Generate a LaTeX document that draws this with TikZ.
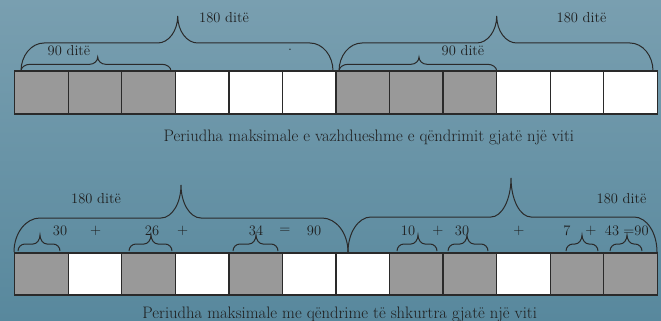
\documentclass[tikz,border=0pt]{standalone}
\usepackage{tikz}

\definecolor{bgtop}{HTML}{799FB0}
\definecolor{bgbot}{HTML}{58889D}
\definecolor{cellgray}{HTML}{999999}
\definecolor{inkline}{HTML}{2A2A2A}
\definecolor{inktext}{HTML}{1E1E1E}

\tikzset{
  cell/.style={draw=inkline, line width=1.3pt, minimum width=53.55pt, minimum height=43pt, inner sep=0pt},
  lowcell/.style={cell, minimum height=42pt},
  bracepen/.style={draw=inkline, line width=1pt},
  lbl/.style={text=inktext, inner sep=0pt, font=\fontsize{14.5}{16}\selectfont},
  caption/.style={text=inktext, inner sep=0pt, font=\fontsize{16.6}{18}\selectfont}
}

% curly brace: x-left, x-right, x-tip, y-end, y-flat, y-tip, end width, tip width
\newcommand{\dbrace}[8]{%
  \draw[bracepen] (#1,#4) .. controls (#1,{#4-0.55*(#4-#5)}) and ({#1+0.45*#7},#5) .. ({#1+#7},#5)
    -- ({#3-#8},#5) .. controls ({#3-0.45*#8},#5) and (#3,{#5-0.45*(#5-#6)}) .. (#3,#6)
    .. controls (#3,{#5-0.45*(#5-#6)}) and ({#3+0.45*#8},#5) .. ({#3+#8},#5)
    -- ({#2-#7},#5) .. controls ({#2-0.45*#7},#5) and (#2,{#4-0.55*(#4-#5)}) .. (#2,#4);}

\begin{document}
\begin{tikzpicture}[x=1pt,y=-1pt]
  \shade[top color=bgtop, bottom color=bgbot] (0,0) rectangle (661,321);
  \useasboundingbox (0,0) rectangle (661,321);

  % upper row
  \foreach \f [count=\i] in {cellgray,cellgray,cellgray,white,white,white,cellgray,cellgray,cellgray,white,white,white}
    \node[cell, fill=\f] (t\i) at ({14.7+(\i-0.5)*53.55},92.5) {};

  \dbrace{21}{333}{177.7}{71}{43}{16}{23}{20}
  \dbrace{21}{171}{97.7}{71}{64.3}{57}{9}{8}
  \dbrace{339}{653}{496.7}{71}{43}{16}{23}{20}
  \dbrace{339}{496.7}{419}{71}{64.3}{57}{9}{8}

  \node[lbl] (days1) at (224,18) {180 ditë};
  \node[lbl] (days2) at (581.5,18) {180 ditë};
  \node[lbl] (half1) at (69,51) {90 ditë};
  \node[lbl] (half2) at (463,51) {90 ditë};
  \node[lbl] (dot) at (290,50) {.};
  \node[caption] (cap1) at (368.8,137) {Periudha maksimale e vazhdueshme e qëndrimit gjatë një viti};

  % lower row
  \foreach \f [count=\i] in {cellgray,white,cellgray,white,cellgray,white,white,cellgray,cellgray,white,cellgray,cellgray}
    \node[lowcell, fill=\f] (b\i) at ({14.7+(\i-0.5)*53.55},274) {};

  \dbrace{14}{348}{181}{252}{218}{185}{26}{20}
  \dbrace{348}{657}{511}{252}{217}{178}{23}{20}
  \dbrace{18}{60}{40}{251}{244}{235}{7}{7}
  \dbrace{129}{172}{151}{251}{244}{235}{7}{7}
  \dbrace{233}{278}{256}{251}{244}{235}{7}{7}
  \dbrace{397}{437}{418}{251}{244}{235}{7}{7}
  \dbrace{448}{488}{467}{251}{244}{235}{7}{7}
  \dbrace{566}{598}{582}{251}{244}{235}{7}{7}
  \dbrace{610}{642}{627}{251}{244}{235}{7}{7}

  \node[lbl] (days3) at (96,199) {180 ditë};
  \node[lbl] (days4) at (621.5,199) {180 ditë};
  \node[lbl] (n30a) at (60,231) {30};
  \node[lbl] (p1) at (95.7,231) {+};
  \node[lbl] (n26) at (152,231) {26};
  \node[lbl] (p2) at (182.7,231) {+};
  \node[lbl] (n34) at (256,231) {34};
  \node[lbl] (eq1) at (285,231) {=};
  \node[lbl] (n90a) at (314,231) {90};
  \node[lbl] (n10) at (408,231) {10};
  \node[lbl] (p3) at (438,231) {+};
  \node[lbl] (n30b) at (462,231) {30};
  \node[lbl] (p4) at (519,231) {+};
  \node[lbl] (n7) at (567,231) {7};
  \node[lbl] (p5) at (591,231) {+};
  \node[lbl] (n43) at (612,231) {43};
  \node[lbl] (n90b) at (636,231) {=90};
  \node[caption] (cap2) at (339.7,314) {Periudha maksimale me qëndrime të shkurtra gjatë një viti};
\end{tikzpicture}
\end{document}
